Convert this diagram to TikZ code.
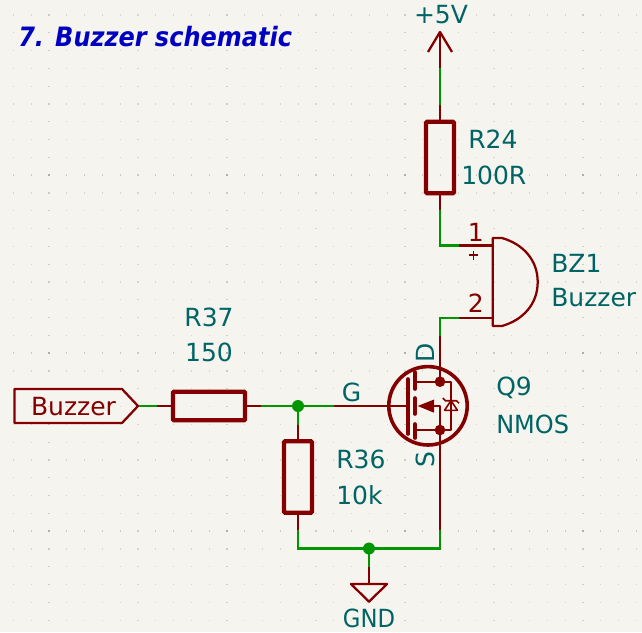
\documentclass[tikz,border=0pt]{standalone}
\usepackage{fontspec}
\setmainfont{DejaVu Sans}
\definecolor{bgc}{HTML}{F5F4EF}
\definecolor{wred}{HTML}{840000}
\definecolor{wgreen}{HTML}{009600}
\definecolor{tealtx}{HTML}{006464}
\definecolor{titleb}{HTML}{0000C2}
\definecolor{gridmin}{HTML}{D8D6D0}
\definecolor{gridmaj}{HTML}{CDCBC5}
\definecolor{gridint}{HTML}{B0AEA7}
\begin{document}
\begin{tikzpicture}[x=0.75pt,y=-0.75pt,
  wire/.style={wgreen,line width=1.7pt,line join=miter},
  pin/.style={wred,line width=1.7pt},
  sym/.style={wred,line width=1.7pt,line join=round},
  fine/.style={wred,line width=1.2pt,line join=round},
  heavy/.style={wred,line width=2.7pt},
  vbody/.style={wred,draw,line width=3.2pt,rounded corners=0.8pt,inner sep=0pt,minimum width=21pt,minimum height=53.5pt},
  hbody/.style={wred,draw,line width=3.2pt,rounded corners=0.8pt,inner sep=0pt,minimum width=54pt,minimum height=21.5pt},
  val/.style={tealtx,font=\fontsize{18.75}{22}\selectfont,inner sep=0pt},
  pinname/.style={wred,font=\fontsize{18.75}{22}\selectfont,inner sep=0pt},
  junc/.style={circle,fill=wgreen,inner sep=0pt,minimum size=9pt},
  mjunc/.style={circle,fill=wred,inner sep=0pt,minimum size=8pt}]
\useasboundingbox (0,0) rectangle (642,632);
\fill[bgc] (0,0) rectangle (642,632);
\foreach \i in {0,...,35}{\foreach \j in {0,...,34}{
  \pgfmathtruncatemacro{\ci}{mod(\i,10)==2}
  \pgfmathtruncatemacro{\cj}{mod(\j,10)==9}
  \pgfmathsetmacro{\gx}{13.3+17.8*\i}
  \pgfmathsetmacro{\gy}{15+17.8*\j}
  \ifnum\ci=1
    \ifnum\cj=1
      \fill[gridint] (\gx-1.2,\gy-1.2) rectangle (\gx+1.2,\gy+1.2);
    \else
      \fill[gridmaj] (\gx-1.2,\gy-0.6) rectangle (\gx+1.2,\gy+0.6);
    \fi
  \else
    \ifnum\cj=1
      \fill[gridmaj] (\gx-0.6,\gy-1.2) rectangle (\gx+0.6,\gy+1.2);
    \else
      \fill[gridmin] (\gx-0.6,\gy-0.6) rectangle (\gx+0.6,\gy+0.6);
    \fi
  \fi
}}
% Symbols with names
\node[hbody] (R37) at (209,406) {};
\node[vbody] (R24) at (440,157.5) {};
\node[vbody] (R36) at (298,477) {};
\node[junc] (J1) at (298,406) {};
\node[junc] (J2) at (369,548.5) {};
% Coordinates
\coordinate (vcc) at (440,32);
\coordinate (n1) at (440,68);
\coordinate (n2) at (440,105);
\coordinate (n3) at (440,209.5);
\coordinate (c1) at (440,245.5);
\coordinate (p1) at (459,245.5);
\coordinate (p1b) at (492.7,245.5);
\coordinate (c2) at (440,318);
\coordinate (p2) at (459,318);
\coordinate (p2b) at (492.7,318);
\coordinate (dr) at (440,336);
\coordinate (MDc) at (440,381.7);
\coordinate (MSc) at (440,430);
\coordinate (sr) at (440,530);
\coordinate (cor2) at (440,548.5);
\coordinate (cor) at (298,548.5);
\coordinate (r36b) at (298,530);
\coordinate (r36t) at (298,425);
\coordinate (gw) at (369,566.5);
\coordinate (gnd) at (369,584);
\coordinate (lw1) at (138,406);
\coordinate (lw2) at (157,406);
\coordinate (rw1) at (261,406);
\coordinate (gw1) at (334,406);
\coordinate (gate) at (408,406);
% wires
\draw[pin] (vcc) -- (n1);
\draw[wire] (n1) -- (n2);
\draw[pin] (n2) -- (R24.north);
\draw[pin] (R24.south) -- (n3);
\draw[wire] (n3) -- (c1) -- (p1);
\draw[pin] (p1) -- (p1b);
\draw[pin] (p2) -- (p2b);
\draw[wire] (p2) -- (c2) -- (dr);
\draw[pin] (dr) -- (MDc);
\draw[pin] (MSc) -- (sr);
\draw[wire] (sr) -- (cor2) -- (J2.center);
\draw[wire] (J2.center) -- (cor) -- (r36b);
\draw[pin] (r36b) -- (R36.south);
\draw[wire] (J2.center) -- (gw);
\draw[pin] (gw) -- (gnd);
\draw[wire] (J1.center) -- (r36t);
\draw[pin] (r36t) -- (R36.north);
\draw[wire] (J1.center) -- (rw1);
\draw[pin] (rw1) -- (R37.east);
\draw[wire] (J1.center) -- (gw1);
\draw[pin] (gw1) -- (gate);
\draw[pin] (R37.west) -- (lw2);
\draw[wire] (lw2) -- (lw1);
% power symbol
\draw[sym] (428,52) -- (vcc) -- (452,52);
\node[val] (t5v) at (441,14.5) {+5V};
% gnd symbol
\draw[sym] (gnd) -- (351,584) -- (369,601.7) -- (387,584) -- cycle;
\node[val] (tgnd) at (369,618.5) {\scalebox{0.91}[1]{GND}};
% buzzer
\draw[sym] (492.7,238) -- (502,238) .. controls (523,244) and (537.7,260) .. (537.7,282) .. controls (537.7,304) and (523,320) .. (502,326) -- (492.7,326) -- cycle;
\node[pinname] (t1) at (475.7,232) {1};
\node[pinname] (t2) at (475.7,303) {2};
\draw[fine] (468.8,255) -- (477.8,255) (473.3,250.5) -- (473.3,259.5);
\node[val,anchor=west] (tbz) at (551,263) {BZ1};
\node[val,anchor=west] (tbzv) at (551,298) {Buzzer};
% labels
\node[val] (t37) at (209,317) {R37};
\node[val] (t150) at (209,352) {150};
\node[val,anchor=west] (t24) at (468,139) {R24};
\node[val,anchor=west] (t100) at (461,175) {100R};
\node[val,anchor=west] (t36) at (336,459) {R36};
\node[val,anchor=west] (t10k) at (336,495) {10k};
\node[val,anchor=west] (tq9) at (496,388) {Q9};
\node[val,anchor=west] (tnm) at (496,424) {\scalebox{0.96}[1]{NMOS}};
\node[val] (tg) at (351.5,392) {G};
\node[val,rotate=90] (td) at (425.5,353) {D};
\node[val,rotate=90] (ts) at (425.5,460) {S};
% label flag
\draw[sym] (14.5,389) -- (122,389) -- (lw1) -- (122,423) -- (14.5,423) -- cycle;
\node[pinname] (tflag) at (73.5,407) {Buzzer};
% title
\node[titleb,font=\bfseries\itshape\fontsize{20}{24}\selectfont,anchor=west,inner sep=0pt] (ttl) at (18,36.5) {\scalebox{0.9}[1]{7. Buzzer schematic}};
% mosfet
\draw[heavy] (428,405.8) circle (39.2);
\draw[heavy,line cap=round] (408,379) -- (408,434);
\draw[heavy,line cap=round] (415,372) -- (415,389) (415,398) -- (415,414) (415,424) -- (415,438);
\draw[sym] (415,381.7) -- (451,381.7) -- (451,430) -- (415,430);
\draw[sym] (420,406) -- (440,406) -- (MSc);
\fill[wred] (417.7,406) -- (434,399.5) -- (434,412.7) -- cycle;
\node[mjunc] (MD) at (MDc) {};
\node[mjunc] (MS) at (MSc) {};
\draw[fine] (442.8,398) -- (445.5,400.7) -- (456.5,400.7) -- (459,403.2);
\draw[fine] (451,400.7) -- (444.5,410.3) -- (457.5,410.3) -- cycle;
\end{tikzpicture}
\end{document}
